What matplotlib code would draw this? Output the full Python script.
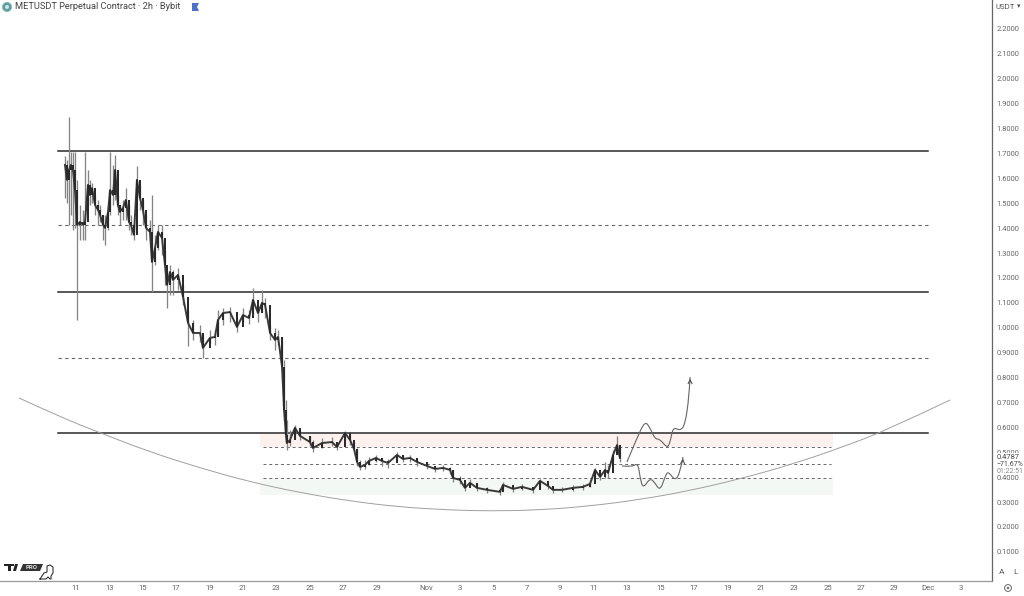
import numpy as np
import matplotlib
matplotlib.use("Agg")
import matplotlib.pyplot as plt
from matplotlib.path import Path
from matplotlib.patches import PathPatch, Circle, Polygon
from matplotlib.transforms import blended_transform_factory

plt.rcParams['font.family'] = ['Roboto', 'DejaVu Sans']

# days counted from 11 Oct, prices in USDT
days = [-0.66,-0.54,-0.42,-0.30,-0.18,-0.06,0.06,0.24,0.42,0.54,0.72,0.84,0.96,1.14,1.32,1.44,1.62,1.74,1.92,2.04,
        2.22,2.34,2.51,2.63,2.81,2.99,3.17,3.29,3.47,3.65,3.83,4.01,4.19,4.43,4.55,4.73,4.91,5.15,5.33,5.45,
        5.63,5.81,6.11,6.41,6.71,7.01,7.43,7.60,8.02,8.32,8.50,8.80,9.22,9.64,10.0,10.36,10.60,10.90,11.14,11.32,
        11.62,11.92,12.10,12.34,12.46,12.57,12.63,12.81,13.11,13.41,14.01,14.19,14.73,15.33,15.63,16.11,16.41,16.65,16.83,17.01,
        17.31,17.54,17.96,18.32,18.68,19.22,19.58,20.0,20.42,21.02,21.50,21.98,22.40,22.57,22.99,23.29,23.59,24.01,24.61,25.39,
        25.57,26.17,26.71,27.37,27.78,28.26,28.56,29.10,29.76,30.36,30.78,31.08,31.38,31.68,31.86,32.16,32.40,32.57]
closes = [1.654,1.594,1.634,1.654,1.634,1.553,1.413,1.425,1.413,1.425,1.574,1.533,1.561,1.493,1.473,1.453,1.413,1.401,1.465,1.553,
          1.533,1.634,1.493,1.465,1.481,1.513,1.425,1.413,1.373,1.594,1.521,1.473,1.401,1.385,1.264,1.320,1.385,1.361,1.252,1.172,
          1.224,1.192,1.212,1.124,1.019,.979,.979,.919,.959,.963,1.031,1.059,1.063,1.003,1.051,1.039,1.112,1.059,1.100,1.092,
          .979,.951,.963,.843,.670,.570,.537,.549,.598,.566,.541,.517,.537,.541,.521,.578,.549,.513,.461,.441,
          .449,.465,.477,.465,.457,.489,.473,.477,.461,.445,.433,.437,.429,.397,.389,.357,.377,.357,.349,.341,
          .369,.353,.361,.349,.385,.365,.349,.349,.357,.361,.373,.429,.401,.429,.417,.489,.529,.477]
highs = [1.690,1.674,1.847,1.706,1.706,1.706,1.594,1.493,1.473,1.706,1.634,1.594,1.582,1.533,1.513,1.493,1.453,1.453,1.493,1.706,
         1.654,1.694,1.533,1.493,1.513,1.561,1.493,1.453,1.413,1.650,1.574,1.513,1.453,1.433,1.533,1.373,1.413,1.413,1.312,1.232,
         1.252,1.232,1.240,1.172,1.072,1.031,1.011,.971,.991,.991,1.072,1.080,1.084,1.039,1.080,1.072,1.160,1.092,1.152,1.120,
         1.011,.999,.991,.951,.871,.710,.630,.590,.610,.590,.566,.549,.557,.561,.541,.586,.570,.541,.517,.469,
         .469,.481,.489,.477,.473,.501,.489,.489,.473,.457,.445,.449,.441,.429,.405,.381,.393,.373,.361,.357,
         .381,.365,.373,.361,.393,.377,.361,.361,.369,.373,.389,.437,.421,.461,.449,.509,.565,.517]
lows = [1.521,1.501,1.413,1.453,1.393,1.401,1.031,1.353,1.353,1.353,1.493,1.493,1.501,1.453,1.413,1.425,1.353,1.333,1.393,1.453,
        1.493,1.513,1.453,1.413,1.433,1.433,1.393,1.373,1.353,1.513,1.473,1.413,1.353,1.353,1.144,1.252,1.312,1.292,1.172,1.080,
        1.132,1.132,1.152,1.092,.927,.951,.943,.879,.939,.931,.971,1.011,1.023,.983,1.023,1.015,1.051,1.023,1.063,1.039,
        .951,.911,.931,.823,.630,.537,.509,.525,.557,.549,.525,.501,.517,.525,.509,.549,.529,.501,.445,.429,
        .433,.449,.461,.445,.437,.469,.461,.461,.445,.433,.421,.425,.413,.381,.373,.345,.365,.345,.337,.329,
        .353,.341,.349,.337,.365,.353,.337,.341,.345,.349,.361,.397,.389,.397,.397,.461,.501,.461]

major_levels = [1.708, 1.144, 0.578]
mid_levels = [1.413, 0.877]
zone_levels = [0.521, 0.453, 0.397]
red_zone = [0.522, 0.578]
green_zone = [0.330, 0.397]

curve_days = [-3.41,-0.96,1.44,4.43,7.43,10.42,13.41,16.41,19.40,22.40,24.79,27.78,30.78,33.77,36.77,39.76,42.75,45.75,48.74,52.34]
curve_prices = [.718,.642,.578,.501,.437,.381,.338,.304,.280,.268,.264,.268,.284,.310,.346,.393,.449,.517,.594,.710]

up_days = [32.99,33.59,34.07,34.37,34.67,34.97,35.39,35.57,35.75,36.17,36.47,36.71,36.77]
up_prices = [.461,.557,.626,.598,.553,.553,.517,.537,.602,.586,.610,.722,.802]
down_days = [32.69,33.29,33.65,33.77,33.95,34.37,34.67,34.97,35.27,35.45,35.87,36.17,36.35]
down_prices = [.445,.441,.457,.401,.353,.397,.377,.345,.401,.425,.385,.417,.481]

x_ticks = [0,2,4,6,8,10,12,14,16,18,21,23,25,27,29,31,33,35,37,39,41,43,45,47,49,51,53]
x_labels = ['11','13','15','17','19','21','23','25','27','29','Nov','3','5','7','9','11','13','15','17','19','21','23','25','27','29','Dec','3']
y_ticks = [round(0.1 * i, 1) for i in range(1, 23)]


def smooth(ax, xs, ys, color, lw):
    # quadratic pieces through the midpoints, the readings act as control points
    pts = list(zip(xs, ys))
    verts = [pts[0]]
    codes = [Path.MOVETO]
    for i in range(1, len(pts) - 1):
        end = pts[i + 1] if i == len(pts) - 2 else ((pts[i][0] + pts[i + 1][0]) / 2, (pts[i][1] + pts[i + 1][1]) / 2)
        verts += [pts[i], end]
        codes += [Path.CURVE3, Path.CURVE3]
    ax.add_patch(PathPatch(Path(verts, codes), fill=False, edgecolor=color, lw=lw, zorder=4))


fig = plt.figure(figsize=(10.24, 5.96), dpi=100)
ax = fig.add_axes([0, 15 / 596, 992 / 1024, 581 / 596])
ax.set_xlim(-4.55, 54.85)
ax.set_ylim(-0.017, 2.316)

for s in ['top', 'left']:
    ax.spines[s].set_visible(False)
ax.spines['right'].set_color('#666666')
ax.spines['right'].set_linewidth(0.9)
ax.spines['bottom'].set_color('#999999')
ax.spines['bottom'].set_linewidth(0.9)

ax.yaxis.tick_right()
ax.set_yticks(y_ticks)
ax.set_yticklabels(['%.4f' % v for v in y_ticks])
ax.set_xticks(x_ticks)
ax.set_xticklabels(x_labels)
ax.tick_params(axis='y', length=0, pad=3, labelsize=5.4, labelcolor='#666666')
ax.tick_params(axis='x', length=0, pad=3, labelsize=5.6, labelcolor='#666666')

# zones and levels
ax.fill_between([11, 45.3], red_zone[0], red_zone[1], color='#fdf1ef', lw=0, zorder=1)
ax.fill_between([11, 45.3], green_zone[0], green_zone[1], color='#f4f8f4', lw=0, zorder=1)
for v in major_levels:
    ax.plot([-1.08, 51], [v, v], color='#2a2a2a', lw=1.1, zorder=2)
for v in mid_levels:
    ax.plot([-1.08, 51], [v, v], color='#666666', lw=0.8, dashes=(3, 3), zorder=2)
for v in zone_levels:
    ax.plot([11.2, 45.2], [v, v], color='#666666', lw=0.7, dashes=(3, 3), zorder=2)

smooth(ax, curve_days, curve_prices, '#a0a0a0', 0.7)

# candles
opens = [closes[0]] + closes[:-1]
ax.vlines(days, lows, highs, color='#858585', lw=0.95, zorder=3)
ax.plot(days, closes, color='#3a3a3a', lw=1.4, zorder=3)
bottoms = np.minimum(opens, closes)
heights = np.abs(np.array(closes) - np.array(opens))
ax.bar(days, heights, bottom=bottoms, width=0.14, color='#2a2a2a', lw=0, zorder=3)

# projected paths
smooth(ax, up_days, up_prices, '#666666', 0.8)
smooth(ax, down_days, down_prices, '#666666', 0.8)
ax.annotate('', xy=(up_days[-1], up_prices[-1] + 0.005), xytext=(up_days[-1], up_prices[-1] - 0.03),
            arrowprops=dict(arrowstyle='->', color='#555555', lw=0.8, mutation_scale=7), zorder=5)
ax.annotate('', xy=(down_days[-1], down_prices[-1] + 0.005), xytext=(down_days[-1] - 0.03, down_prices[-1] - 0.03),
            arrowprops=dict(arrowstyle='->', color='#555555', lw=0.8, mutation_scale=7), zorder=5)

# last price tag sits over the lower half of the 0.5000 tick
tr = blended_transform_factory(ax.transAxes, ax.transData)
tag_box = dict(facecolor='white', edgecolor='none', pad=0.6)
ax.text(1.0045, 0.479, '0.4787', transform=tr, fontsize=5.4, color='#444444', va='center', clip_on=False, bbox=tag_box, zorder=6)
ax.text(1.0045, 0.451, '\u221271.67%', transform=tr, fontsize=5.0, color='#444444', va='center', clip_on=False, zorder=6)
ax.text(1.0045, 0.424, '01:22:51', transform=tr, fontsize=5.0, color='#888888', va='center', clip_on=False, zorder=6)


# header, footer and logo in figure pixels
def fx(x):
    return x / 1024


def fy(y):
    return 1 - y / 596


fig.text(fx(15), fy(6.5), 'METUSDT Perpetual Contract \u00b7 2h \u00b7 Bybit', fontsize=6.7, color='#444444', va='center')
fig.text(fx(996), fy(7), 'USDT', fontsize=5.6, color='#555555', va='center')
fig.text(fx(1017), fy(7), '\u25be', fontsize=5, color='#555555', va='center')
fig.text(fx(1002), fy(572), 'A', fontsize=6, color='#555555', va='center', ha='center')
fig.text(fx(1016), fy(572), 'L', fontsize=6, color='#555555', va='center', ha='center')

sq = fig.add_axes([0, 0, 1, 1], facecolor='none')
sq.set_xlim(0, 1024)
sq.set_ylim(596, 0)
sq.axis('off')
sq.add_patch(Circle((7, 7), 4.6, facecolor='#5f9ea0', edgecolor='#7fb5b5', lw=0.5))
sq.add_patch(Circle((7, 7), 2, facecolor='#cfe3e3', edgecolor='none'))
sq.add_patch(Polygon([(192, 3), (199, 3), (197, 7), (199, 11), (192, 11)], facecolor='#4a72c8', edgecolor='none'))
sq.add_patch(Circle((1008, 588), 3.4, fill=False, edgecolor='#666666', lw=0.7))
sq.add_patch(Circle((1008, 588), 1.2, facecolor='#666666', edgecolor='none'))

# TV PRO logo
sq.add_patch(Polygon([(4, 564), (14, 564), (14, 566), (11, 566), (11, 571), (8, 571), (8, 566), (4, 566)], facecolor='#222222', edgecolor='none'))
sq.add_patch(Polygon([(15, 564), (18, 564), (16, 571), (13, 571)], facecolor='#222222', edgecolor='none'))
sq.add_patch(Polygon([(23, 564), (43, 564), (40, 571), (20, 571)], facecolor='#333333', edgecolor='none'))
sq.text(31.5, 567.6, 'PRO', fontsize=4.4, color='#dddddd', ha='center', va='center', fontweight='bold')
sq.plot([40, 44, 47, 47, 50, 53, 53, 51, 51, 50, 48, 46, 43, 40], [579, 573, 572, 566, 565, 567, 573, 576, 579, 579, 577, 579, 579, 579],
        color='#333333', lw=0.8)

fig.savefig('out.png', dpi=100)
